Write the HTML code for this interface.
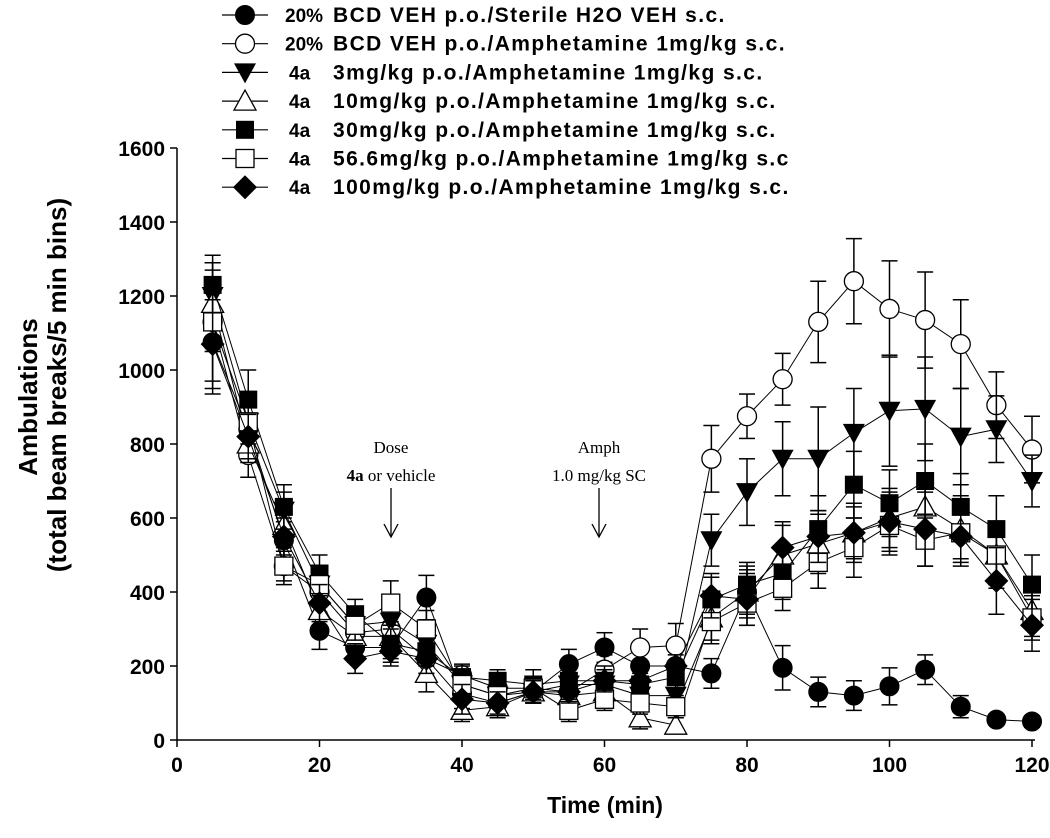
<!DOCTYPE html>
<html><head><meta charset="utf-8"><style>
html,body{margin:0;padding:0;background:#fff;}
svg{display:block;font-family:"Liberation Sans",Arial,sans-serif;}
</style></head><body>
<svg id="chart" width="1050" height="838" viewBox="0 0 1050 838" xmlns="http://www.w3.org/2000/svg">
<g id="axes"></g>
<g id="series"></g>
<g id="legend"></g>
<g font-family="'Liberation Serif',serif" font-size="17" text-anchor="middle">
<text x="391" y="453">Dose</text>
<text x="391" y="481"><tspan font-weight="bold">4a</tspan> or vehicle</text>
<line x1="391" y1="488" x2="391" y2="536" stroke="#000" stroke-width="1.3"/>
<polyline points="384,524 391,537 398,524" fill="none" stroke="#000" stroke-width="1.3"/>
</g>
<g font-family="'Liberation Serif',serif" font-size="17" text-anchor="middle">
<text x="599" y="453">Amph</text>
<text x="599" y="481">1.0 mg/kg SC</text>
<line x1="599" y1="488" x2="599" y2="536" stroke="#000" stroke-width="1.3"/>
<polyline points="592,524 599,537 606,524" fill="none" stroke="#000" stroke-width="1.3"/>
</g>
</svg>
<script>
const times=[5,10,15,20,25,30,35,40,45,50,55,60,65,70,75,80,85,90,95,100,105,110,115,120];
const xTicks=[0,20,40,60,80,100,120];
const yTicks=[0,200,400,600,800,1000,1200,1400,1600];
const vehH2O=[1075,840,540,295,250,250,385,125,100,130,205,250,200,200,180,400,195,130,120,145,190,90,55,50];
const vehAmph=[1130,770,470,400,290,300,220,175,140,140,130,190,250,255,760,875,975,1130,1240,1165,1135,1070,905,785];
const d3=[1200,860,620,420,310,320,260,150,120,130,150,150,120,120,540,670,760,760,830,890,895,820,840,700];
const d10=[1180,800,580,350,280,280,180,80,90,130,120,130,60,40,330,400,500,530,560,600,630,570,500,350];
const d30=[1230,920,630,450,340,260,240,170,160,150,160,160,150,170,380,420,450,570,690,640,700,630,570,420];
const d56=[1130,860,470,420,310,370,300,150,120,140,80,110,100,90,320,370,410,480,520,580,540,560,500,330];
const d100=[1070,820,550,370,220,240,220,110,100,130,130,160,160,200,390,380,520,550,560,590,570,550,430,310];
const errH2O=[140,60,50,50,40,40,60,40,30,30,40,40,40,40,40,60,60,40,40,50,40,30,15,15];
const errAmph=[160,60,40,40,30,50,40,30,30,30,30,40,50,60,90,60,70,110,115,130,130,120,90,90];
const errD3=[90,70,50,50,40,40,40,30,30,30,30,30,30,30,70,90,100,140,120,150,140,130,90,70];
const errD10=[90,50,50,40,40,40,50,30,30,30,30,30,30,20,60,70,80,80,80,80,90,90,90,70];
const errD30=[80,80,60,50,40,40,40,30,30,40,40,40,30,30,60,60,70,90,90,90,100,90,90,80];
const errD56=[80,60,50,50,40,60,50,40,30,30,30,30,30,30,60,60,60,70,80,80,70,70,80,60];
const errD100=[120,60,50,50,40,40,40,40,30,30,30,30,30,30,60,70,70,70,70,80,100,80,90,70];
const legendLabels=[["20%","BCD VEH p.o./Sterile H2O VEH s.c."],["20%","BCD VEH p.o./Amphetamine 1mg/kg s.c."],["4a","3mg/kg p.o./Amphetamine 1mg/kg s.c."],["4a","10mg/kg p.o./Amphetamine 1mg/kg s.c."],["4a","30mg/kg p.o./Amphetamine 1mg/kg s.c."],["4a","56.6mg/kg p.o./Amphetamine 1mg/kg s.c"],["4a","100mg/kg p.o./Amphetamine 1mg/kg s.c."]];
const NS="http://www.w3.org/2000/svg";
const X0=177,X1=1032,Y0=740,Y1=148;
function xs(t){return X0+(t-0)/120*(X1-X0);}
function ys(v){return Y0-(v/1600)*(Y0-Y1);}
function mk(tag,attrs,parent){const e=document.createElementNS(NS,tag);for(const k in attrs)e.setAttribute(k,attrs[k]);parent.appendChild(e);return e;}
const axes=document.getElementById('axes');
let e=mk('line',{x1:X0,y1:Y0,x2:X1+3,y2:Y0,stroke:'#000','stroke-width':1.5},axes);


e=mk('line',{x1:X0,y1:Y0,x2:X0,y2:Y1,stroke:'#000','stroke-width':1.5},axes);


xTicks.forEach(t=>{
 mk('line',{x1:xs(t),y1:Y0,x2:xs(t),y2:Y0+7,stroke:'#000','stroke-width':1.5},axes);
 const tx=mk('text',{x:xs(t),y:Y0+32,'font-size':21,'font-weight':'bold','text-anchor':'middle'},axes);
 tx.textContent=t;
 
 
});
yTicks.forEach(v=>{
 mk('line',{x1:X0-7,y1:ys(v),x2:X0,y2:ys(v),stroke:'#000','stroke-width':1.5},axes);
 const tx=mk('text',{x:X0-12,y:ys(v)+8,'font-size':21,'font-weight':'bold','text-anchor':'end'},axes);
 tx.textContent=v;
 
 
});
let tt=mk('text',{x:605,y:813,'font-size':23,'font-weight':'bold','text-anchor':'middle'},axes);
tt.textContent='Time (min)';


tt=mk('text',{x:0,y:0,'font-size':26,'font-weight':'bold','text-anchor':'middle',transform:'translate(37,397) rotate(-90)'},axes);
tt.textContent='Ambulations';


tt=mk('text',{x:0,y:0,'font-size':26,'font-weight':'bold','text-anchor':'middle',transform:'translate(66,385) rotate(-90)'},axes);
tt.textContent='(total beam breaks/5 min bins)';



function marker(type,x,y,g){
 const r=9.5;
 if(type==='circleF')return mk('circle',{cx:x,cy:y,r:r,fill:'#000',stroke:'#000'},g);
 if(type==='circleO')return mk('circle',{cx:x,cy:y,r:r,fill:'#fff',stroke:'#000','stroke-width':1.3},g);
 if(type==='triD')return mk('polygon',{points:`${x-11},${y-9} ${x+11},${y-9} ${x},${y+11}`,fill:'#000'},g);
 if(type==='triU')return mk('polygon',{points:`${x-11},${y+9} ${x+11},${y+9} ${x},${y-11}`,fill:'#fff',stroke:'#000','stroke-width':1.3},g);
 if(type==='sqF')return mk('rect',{x:x-9,y:y-9,width:18,height:18,fill:'#000'},g);
 if(type==='sqO')return mk('rect',{x:x-9,y:y-9,width:18,height:18,fill:'#fff',stroke:'#000','stroke-width':1.3},g);
 return mk('polygon',{points:`${x},${y-12} ${x+12},${y} ${x},${y+12} ${x-12},${y}`,fill:'#000'},g);
}
const seriesDefs=[
 ['vehicle-h2o',vehH2O,errH2O,'circleF'],
 ['vehicle-amph',vehAmph,errAmph,'circleO'],
 ['dose-3mg',d3,errD3,'triD'],
 ['dose-10mg',d10,errD10,'triU'],
 ['dose-30mg',d30,errD30,'sqF'],
 ['dose-56mg',d56,errD56,'sqO'],
 ['dose-100mg',d100,errD100,'dia']];
const sg=document.getElementById('series');
seriesDefs.forEach(([name,vals,errs,type])=>{
 const g=mk('g',{},sg);
 
 
 const pts=times.map((t,i)=>xs(t)+','+ys(vals[i])).join(' ');
 const ln=mk('polyline',{points:pts,fill:'none',stroke:'#000','stroke-width':1},g);
 
 
 times.forEach((t,i)=>{
  const x=xs(t),yt=ys(vals[i]+errs[i]),yb=ys(vals[i]-errs[i]);
  mk('line',{x1:x,y1:yt,x2:x,y2:yb,stroke:'#000','stroke-width':1.5},g);
  mk('line',{x1:x-8,y1:yt,x2:x+8,y2:yt,stroke:'#000','stroke-width':1.5},g);
  mk('line',{x1:x-8,y1:yb,x2:x+8,y2:yb,stroke:'#000','stroke-width':1.5},g);
 });
 times.forEach((t,i)=>{
  const m=marker(type,xs(t),ys(vals[i]),g);
  
  
 });
});
const lg=document.getElementById('legend');
seriesDefs.forEach(([name,,,type],i)=>{
 const y=15+i*28.7;
 const g=mk('g',{},lg);
 
 
 mk('line',{x1:222,y1:y,x2:268,y2:y,stroke:'#000','stroke-width':1.2},g);
 marker(type,245,y,g);
 const isPct=legendLabels[i][0]==='20%';
 const t1=mk('text',{x:isPct?285:289,y:y+7,'font-size':19,'font-weight':'bold'},g);
 t1.textContent=legendLabels[i][0];
 const t2=mk('text',{x:333,y:y+7,'font-size':21,'font-weight':'bold','letter-spacing':1.4},g);
 t2.textContent=legendLabels[i][1];
});
</script>
</body></html>
